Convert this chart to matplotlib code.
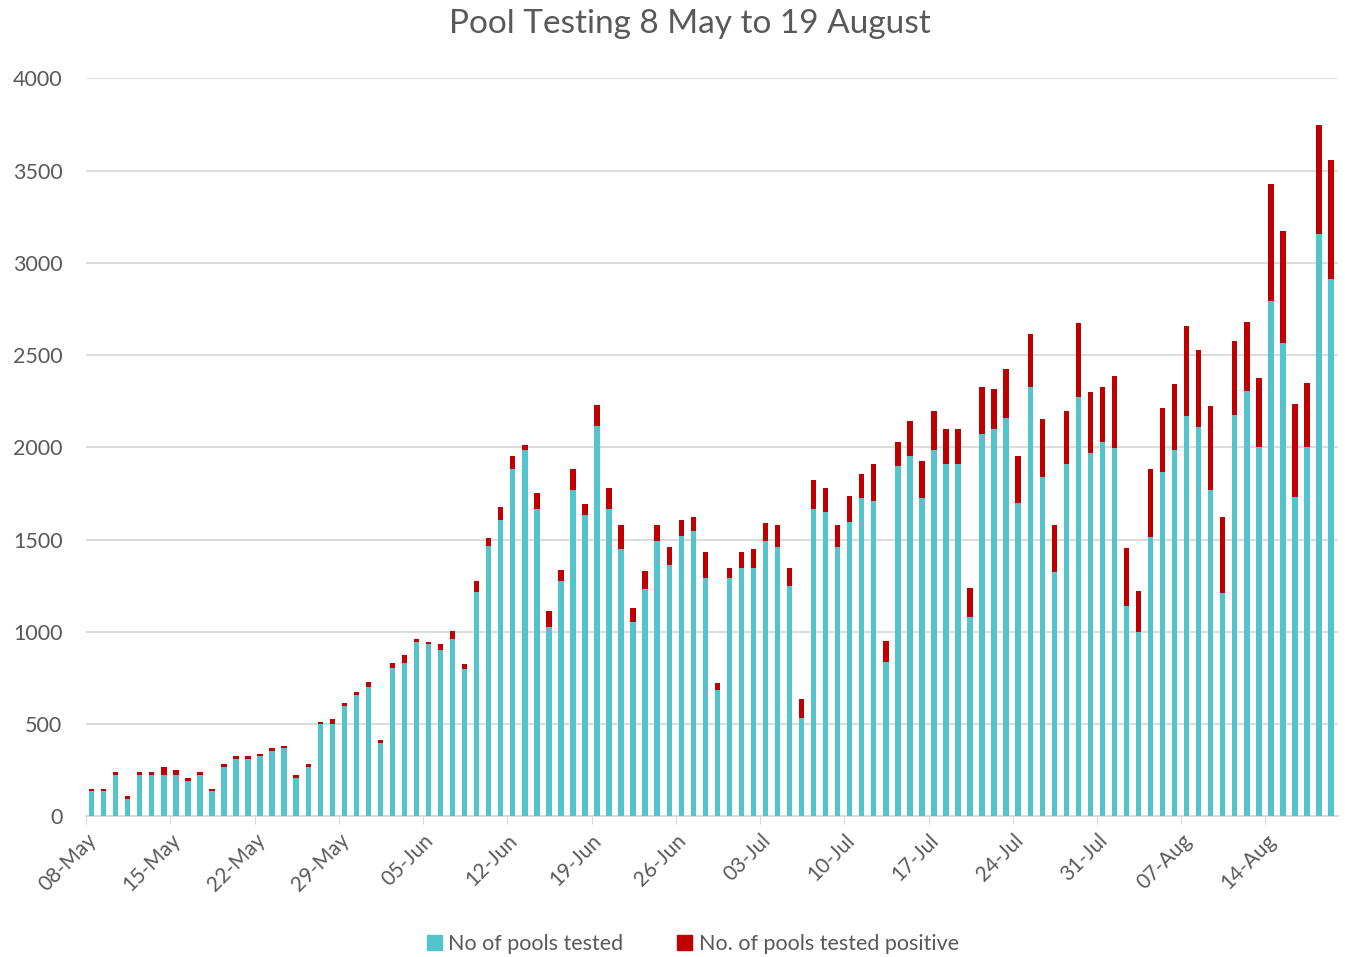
import numpy as np
import pandas as pd
import matplotlib
matplotlib.use("Agg")
import matplotlib.pyplot as plt
from matplotlib.patches import Patch

plt.rcParams['font.family'] = ['Lato', 'DejaVu Sans']

# daily values, 8 May .. 19 Aug
tested = [135, 135, 222, 92, 222, 222, 222, 222, 193, 222, 135, 265, 309, 309, 325, 352,
          368, 210, 267, 498, 498, 598, 656, 701, 396, 802, 831, 944, 932, 903, 961, 798,
          1215, 1464, 1607, 1884, 1984, 1666, 1027, 1274, 1768, 1636, 2116, 1666, 1447, 1056,
          1230, 1491, 1362, 1520, 1549, 1290, 684, 1290, 1346, 1346, 1491, 1461, 1248, 535,
          1664, 1649, 1461, 1595, 1726, 1712, 836, 1898, 1955, 1726, 1984, 1912, 1912, 1080,
          2070, 2101, 2158, 1697, 2328, 1841, 1324, 1912, 2271, 1970, 2027, 1998, 1139, 998,
          1512, 1869, 1984, 2171, 2113, 1769, 1213, 2174, 2307, 2004, 2796, 2566, 1730, 2004,
          3156, 2911]
positive = [15, 15, 16, 16, 16, 16, 45, 31, 17, 16, 15, 17, 16, 16, 15, 16,
            13, 14, 15, 15, 29, 16, 16, 29, 16, 29, 43, 17, 14, 29, 43, 30,
            59, 43, 72, 71, 31, 86, 87, 59, 115, 58, 114, 116, 131, 73,
            101, 87, 99, 87, 72, 141, 41, 56, 85, 101, 101, 117, 98, 101,
            159, 133, 117, 143, 129, 200, 117, 129, 187, 201, 215, 187, 187, 158,
            258, 213, 269, 258, 285, 315, 258, 287, 401, 328, 301, 387, 316, 226,
            372, 344, 357, 485, 414, 457, 407, 401, 374, 374, 634, 605, 505, 346,
            591, 648]

dates = pd.date_range('2020-05-08', '2020-08-19', freq='D')
x = np.arange(len(dates))

blue = '#53C4CC'
red = '#C00000'
gray = '#595959'

fig = plt.figure(figsize=(13.45, 9.57), dpi=100)
ax = fig.add_axes([0.064, 0.147, 0.931, 0.771])

ax.bar(x, tested, width=0.45, color=blue, zorder=3)
ax.bar(x, positive, width=0.45, bottom=tested, color=red, zorder=3)

ax.set_ylim(0, 4000)
ax.set_xlim(-0.46, 103.6)
ax.set_yticks(range(0, 4001, 500))
ax.yaxis.grid(True, color='#D9D9D9', linewidth=1.3, zorder=0)
ax.tick_params(axis='y', length=0, labelsize=15.5, labelcolor=gray, pad=17)

ticks = x[::7]
ax.set_xticks(ticks - 0.45)
ax.set_xticklabels([d.strftime('%d-%b') for d in dates[::7]], rotation=45,
                   ha='right', rotation_mode='anchor')
ax.tick_params(axis='x', length=6, color='#D9D9D9', labelsize=15, labelcolor=gray, pad=4)

for s in ['top', 'right', 'left']:
    ax.spines[s].set_visible(False)
ax.spines['bottom'].set_color('#D9D9D9')
ax.spines['bottom'].set_linewidth(1.3)

fig.text(0.513, 0.975, 'Pool Testing 8 May to 19 August', ha='center', va='center',
         fontsize=24, color=gray)

handles = [Patch(color=blue, label='No of pools tested'),
           Patch(color=red, label='No. of pools tested positive')]
fig.legend(handles=handles, loc='center', bbox_to_anchor=(0.515, 0.014), ncol=2,
           frameon=False, fontsize=15.5, labelcolor=gray, handlelength=0.7,
           handleheight=0.7, handletextpad=0.3, columnspacing=2.5)

fig.savefig('out.png', dpi=100)
